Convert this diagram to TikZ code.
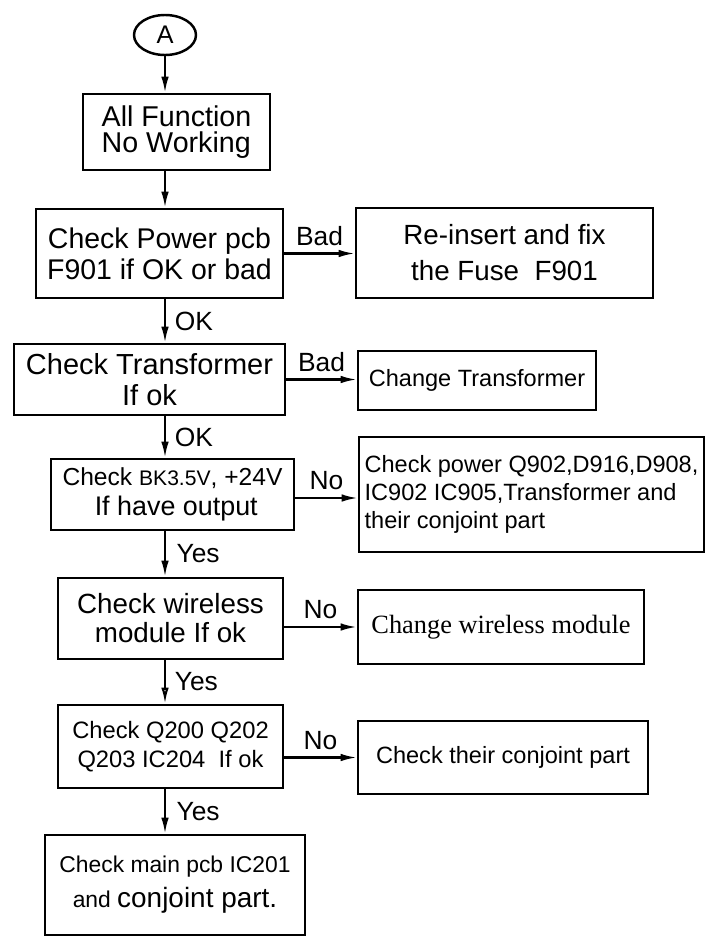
\documentclass[tikz,border=0pt]{standalone}
\usepackage{fontspec}
\setmainfont{Liberation Sans}
\newfontfamily\timesfont{Liberation Serif}
\usetikzlibrary{arrows.meta,shapes.geometric}

\tikzset{
  box/.style={draw, line width=1.5pt, inner sep=0pt, align=center},
  arr/.style={line width=1.2pt, -{Latex[length=3.2mm,width=1.5mm]}},
  lbl/.style={font=\fontsize{15}{17}\selectfont, inner sep=2pt},
}

\begin{document}
\begin{tikzpicture}
  \useasboundingbox (0,0) rectangle (14.12,-18.76);

  % Start
  \node[draw, ellipse, line width=1.4pt, minimum width=1.24cm, minimum height=0.8cm,
        inner sep=0pt, font=\fontsize{14.5}{16}\selectfont] (A) at (3.30,-0.70) {A};

  % Main column
  \node[box, minimum width=3.74cm, minimum height=1.52cm, align=left,
        font=\fontsize{16.3}{15}\selectfont] (fail) at (3.53,-2.64) {All Function\\No Working};
  \node[box, minimum width=4.94cm, minimum height=1.78cm,
        font=\fontsize{16.2}{17.6}\selectfont] (fuse) at (3.19,-5.07) {Check Power pcb\\F901 if OK or bad};
  \node[box, minimum width=5.42cm, minimum height=1.42cm,
        font=\fontsize{16.5}{17.6}\selectfont] (trafo) at (2.99,-7.59) {Check Transformer\\If ok};
  \node[box, minimum width=4.86cm, minimum height=1.42cm,
        font=\fontsize{14}{17}\selectfont] (volt) at (3.45,-9.89)
        {Check {\fontsize{12}{17}\selectfont BK3.5V}, +24V\\\fontsize{15.3}{17}\selectfont\ If have output};
  \node[box, minimum width=4.50cm, minimum height=1.62cm,
        font=\fontsize{15.8}{16.5}\selectfont] (wifi) at (3.41,-12.37) {Check wireless\\module If ok};
  \node[box, minimum width=4.50cm, minimum height=1.66cm,
        font=\fontsize{13.5}{16.5}\selectfont] (trans) at (3.41,-14.93) {Check Q200 Q202\\Q203 IC204\ \ If ok};
  \node[box, minimum width=5.20cm, minimum height=2.00cm,
        font=\fontsize{13}{20}\selectfont] (mainpcb) at (3.50,-17.70)
        {Check main pcb IC201\\and {\fontsize{15.9}{20}\selectfont conjoint part.}};

  % Right column
  \node[box, minimum width=5.94cm, minimum height=1.80cm,
        font=\fontsize{15.8}{20.5}\selectfont] (refuse) at (10.09,-5.06) {Re-insert and fix\\the Fuse\ \ F901};
  \node[box, minimum width=4.76cm, minimum height=1.18cm,
        font=\fontsize{13.4}{16}\selectfont] (newtrafo) at (9.54,-7.61) {Change Transformer};
  \node[box, minimum width=6.90cm, minimum height=2.30cm, align=left,
        font=\fontsize{13.4}{16}\selectfont] (pwr) at (10.63,-9.89)
        {Check power Q902,D916,D908,\\IC902 IC905,Transformer and\\their conjoint part};
  \node[box, minimum width=5.72cm, minimum height=1.48cm,
        font=\timesfont\fontsize{15}{17}\selectfont] (newwifi) at (10.02,-12.54) {Change wireless module};
  \node[box, minimum width=5.80cm, minimum height=1.46cm,
        font=\fontsize{13.4}{16}\selectfont] (conj) at (10.06,-15.15) {Check their conjoint part};

  % Down arrows
  \draw[arr] (A.south) -- (A.south |- fail.north);
  \draw[arr] (fail.south -| A) -- (fuse.north -| A);
  \draw[arr] (fuse.south -| A) -- node[lbl, right=3pt]{OK} (trafo.north -| A);
  \draw[arr] (trafo.south -| A) -- node[lbl, right=3pt]{OK} (volt.north -| A);
  \draw[arr] (volt.south -| A) -- node[lbl, right=4pt]{Yes} (wifi.north -| A);
  \draw[line width=1.2pt, -{Latex[open,length=3.2mm,width=1.5mm]}]
        (wifi.south -| A) -- node[lbl, right=3pt]{Yes} (trans.north -| A);
  \draw[arr] (trans.south -| A) -- node[lbl, right=4pt]{Yes} (mainpcb.north -| A);

  % Side arrows
  \draw[arr] (fuse.east) -- node[lbl, above=2pt]{Bad} (fuse.east -| refuse.west);
  \draw[arr] (trafo.east) -- node[lbl, above=2pt]{Bad} (trafo.east -| newtrafo.west);
  \draw[arr] ([yshift=-0.07cm]volt.east) -- node[lbl, above=2pt]{No} ([yshift=-0.07cm]volt.east -| pwr.west);
  \draw[arr] (newwifi.west -| wifi.east) -- node[lbl, above=2pt]{No} (newwifi.west);
  \draw[arr] (conj.west -| trans.east) -- node[lbl, above=2pt]{No} (conj.west);
\end{tikzpicture}
\end{document}
